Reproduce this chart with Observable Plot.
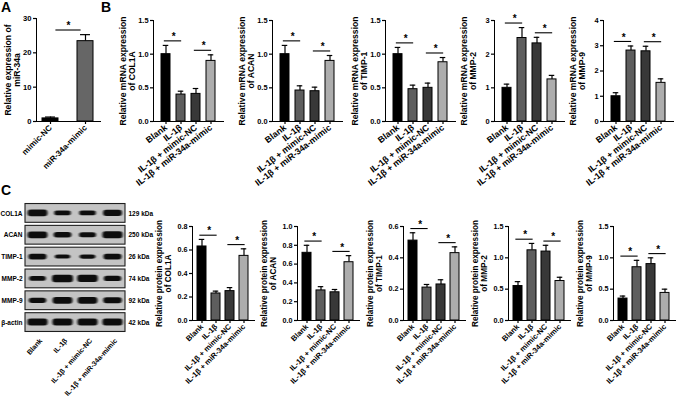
<!DOCTYPE html>
<html><head><meta charset="utf-8">
<script src="https://cdn.jsdelivr.net/npm/d3@7"></script>
<script src="https://cdn.jsdelivr.net/npm/@observablehq/plot@0.6"></script>
<style>
html,body{margin:0;padding:0;background:#fff;}
#fig{position:relative;width:676px;height:410px;overflow:hidden;background:#fff;font-family:'Liberation Sans',Arial,sans-serif;font-weight:bold;color:#000;}
.panel{position:absolute;}
.panel svg{max-width:none !important;display:block;}
.letter{position:absolute;font-size:14px;font-weight:bold;line-height:1;}
.panel svg [aria-label^="x-axis"] path,.panel svg [aria-label^="y-axis"] path,
.panel svg [aria-label^="x-axis"] line,.panel svg [aria-label^="y-axis"] line{stroke-width:1.2px;}
.lblA svg [aria-label^="x-axis"] text{font-size:8.2px;}
.lblB svg [aria-label^="x-axis"] text{font-size:8.8px;}
.lblC svg [aria-label^="x-axis"] text{font-size:7.6px;}
</style></head><body><div id="fig"></div>
<script>
// ---------------- data ----------------
const groups = ["Blank", "IL-1β", "IL-1β + mimic-NC", "IL-1β + miR-34a-mimic"];
const groupColors = ["#000000", "#5e5e5e", "#383838", "#adadad"];
const sigPairs = [["Blank", "IL-1β"], ["IL-1β + mimic-NC", "IL-1β + miR-34a-mimic"]];

// Panel A
const aCategories = ["mimic-NC", "miR-34a-mimic"];
const aColors = ["#000000", "#666666"];
const aValues = [0.9, 23.4];
const aErrors = [1.3, 25.3];
const aTicks = [0, 10, 20, 30];
const aSigPairs = [["mimic-NC", "miR-34a-mimic"]];

// Panel B (mRNA)
const mrnaCOL1A = [1.00, 0.40, 0.41, 0.90];
const mrnaCOL1AErr = [1.13, 0.45, 0.49, 0.99];
const mrnaACAN = [1.00, 0.46, 0.45, 0.90];
const mrnaACANErr = [1.13, 0.53, 0.51, 0.98];
const mrnaTIMP1 = [1.00, 0.48, 0.50, 0.88];
const mrnaTIMP1Err = [1.10, 0.54, 0.57, 0.95];
const mrnaMMP2 = [1.00, 2.48, 2.32, 1.25];
const mrnaMMP2Err = [1.11, 2.79, 2.50, 1.37];
const mrnaMMP9 = [1.00, 2.81, 2.78, 1.53];
const mrnaMMP9Err = [1.14, 2.99, 2.98, 1.69];
const mrnaTicks15 = [0, 0.5, 1.0, 1.5];
const mrnaTicks3 = [0, 1, 2, 3];
const mrnaTicks4 = [0, 1, 2, 3, 4];

// Panel C (protein)
const protCOL1A = [0.63, 0.23, 0.25, 0.55];
const protCOL1AErr = [0.69, 0.25, 0.28, 0.61];
const protACAN = [0.72, 0.32, 0.30, 0.62];
const protACANErr = [0.80, 0.36, 0.33, 0.69];
const protTIMP1 = [0.51, 0.21, 0.23, 0.43];
const protTIMP1Err = [0.56, 0.23, 0.26, 0.47];
const protMMP2 = [0.55, 1.12, 1.10, 0.63];
const protMMP2Err = [0.62, 1.23, 1.20, 0.69];
const protMMP9 = [0.35, 0.85, 0.90, 0.44];
const protMMP9Err = [0.39, 0.96, 1.00, 0.50];
const protTicks08 = [0, 0.2, 0.4, 0.6, 0.8];
const protTicks10 = [0, 0.2, 0.4, 0.6, 0.8, 1.0];
const protTicks06 = [0, 0.2, 0.4, 0.6];
const protTicks15 = [0, 0.5, 1.0, 1.5];

// Western blot
const blotRows = ["COL1A", "ACAN", "TIMP-1", "MMP-2", "MMP-9", "β-actin"];
const blotSizes = ["129 kDa", "250 kDa", "26 kDa", "74 kDa", "92 kDa", "42 kDa"];
const blotIntensity = [
  [0.85, 0.45, 0.45, 0.75],
  [0.85, 0.6, 0.5, 0.9],
  [0.65, 0.3, 0.35, 0.65],
  [0.45, 1.0, 0.95, 0.55],
  [0.55, 0.85, 0.85, 0.7],
  [0.9, 0.9, 0.9, 0.9]
];

// ---------------- drawing ----------------
const fig = document.getElementById("fig");
const f1 = d3.format(".1f"), f0 = d3.format("d");
const FONT = "'Liberation Sans', Arial, sans-serif";

function place(node, left, top, w, h, cls) {
  const div = document.createElement("div");
  div.className = "panel" + (cls ? " " + cls : "");
  div.style.left = left + "px";
  div.style.top = top + "px";
  div.style.width = w + "px";
  div.style.height = h + "px";
  div.appendChild(node);
  fig.appendChild(div);
}

function barChart(o) {
  const n = o.cats.length;
  const step = o.axisLen / (n - o.pi + 2 * o.po);
  const bw = step * (1 - o.pi);
  const data = o.cats.map((c, i) => ({cat: c, value: o.values[i], err: o.errs[i]}));
  const errOf = c => data.find(d => d.cat === c).err;
  const ymax = o.ticks[o.ticks.length - 1];
  const sig = o.pairs.map(([a, b]) => ({a, b, y: Math.max(errOf(a), errOf(b)) + 0.045 * ymax}));
  const W = o.ml + o.axisLen + 8;
  const svg = Plot.plot({
    width: W, height: o.H,
    marginTop: o.mt, marginBottom: o.H - (o.y0 - o.top),
    marginLeft: o.ml, marginRight: W - o.ml - o.axisLen,
    style: {background: "none", overflow: "visible", fontFamily: FONT, fontWeight: "bold", fontSize: o.tickFont + "px", color: "#000"},
    x: {type: "band", domain: o.cats, paddingInner: o.pi, paddingOuter: o.po, label: null,
        tickRotate: o.rot, tickSize: 3, tickPadding: 2, line: true},
    y: {domain: [0, ymax], ticks: o.ticks, tickFormat: o.fmt, label: null, tickSize: 3, tickPadding: 2, line: true},
    color: {domain: o.cats, range: o.colors},
    marks: [
      Plot.ruleX(data, {x: "cat", y1: "value", y2: "err", stroke: "#000", strokeWidth: 1.2}),
      Plot.tickY(data, {x: "cat", y: "err", stroke: "#000", strokeWidth: 1.2, insetLeft: bw * 0.18, insetRight: bw * 0.18}),
      Plot.barY(data, {x: "cat", y: "value", fill: "cat", stroke: "#000", strokeWidth: 1}),
      Plot.ruleY(sig, {x1: "a", x2: "b", y: "y", stroke: "#000", strokeWidth: 1.1,
        insetLeft: bw / 2 + o.la, insetRight: bw / 2 - o.rb}),
      Plot.text(sig, {x: "a", y: "y", text: () => "*", dx: step / 2, dy: -4, fontSize: 10, fontWeight: "bold"}),
      Plot.text([o.title], {text: d => d, frameAnchor: "left", textAnchor: "middle", rotate: -90, dx: o.titleDx,
        fontSize: o.titleFont, fontWeight: "bold", lineHeight: 1.12})
    ]
  });
  place(svg, o.axisX - o.ml, o.top, W, o.H, o.cls);
}

// Panel A
barChart({cats: aCategories, colors: aColors, values: aValues, errs: aErrors, ticks: aTicks, fmt: f0,
  pairs: aSigPairs, title: "Relative expression of\nmiR-34a", axisX: 36, axisLen: 64, ml: 36, top: 0, mt: 18, y0: 121, H: 195,
  pi: 0.53, po: 0.16, tickFont: 7.6, titleFont: 8.6, titleDx: -24, la: 5, rb: -4, rot: -45, cls: "lblA"});

// Panel B
const mrnaCharts = [
  {t: "COL1A", v: mrnaCOL1A, e: mrnaCOL1AErr, ticks: mrnaTicks15, fmt: f1},
  {t: "ACAN", v: mrnaACAN, e: mrnaACANErr, ticks: mrnaTicks15, fmt: f1},
  {t: "TIMP-1", v: mrnaTIMP1, e: mrnaTIMP1Err, ticks: mrnaTicks15, fmt: f1},
  {t: "MMP-2", v: mrnaMMP2, e: mrnaMMP2Err, ticks: mrnaTicks3, fmt: f0},
  {t: "MMP-9", v: mrnaMMP9, e: mrnaMMP9Err, ticks: mrnaTicks4, fmt: f0}
];
const bAxes = [153, 272, 385, 494, 603];
mrnaCharts.forEach((c, i) => barChart({cats: groups, colors: groupColors, values: c.v, errs: c.e, ticks: c.ticks, fmt: c.fmt,
  pairs: sigPairs, title: "Relative mRNA expression\nof " + c.t, axisX: bAxes[i], axisLen: 70, ml: 46, top: 0, mt: 20, y0: 121, H: 195,
  pi: 0.375, po: 0.45, tickFont: 7.4, titleFont: 8.6, titleDx: -26, la: -2, rb: 1, rot: -38, cls: "lblB"}));

// Panel C charts
const protCharts = [
  {t: "COL1A", v: protCOL1A, e: protCOL1AErr, ticks: protTicks08},
  {t: "ACAN", v: protACAN, e: protACANErr, ticks: protTicks10},
  {t: "TIMP-1", v: protTIMP1, e: protTIMP1Err, ticks: protTicks06},
  {t: "MMP-2", v: protMMP2, e: protMMP2Err, ticks: protTicks15},
  {t: "MMP-9", v: protMMP9, e: protMMP9Err, ticks: protTicks15}
];
const cAxes = [192, 297, 402.5, 508, 613];
protCharts.forEach((c, i) => barChart({cats: groups, colors: groupColors, values: c.v, errs: c.e, ticks: c.ticks, fmt: f1,
  pairs: sigPairs, title: "Relative protein expression\nof " + c.t, axisX: cAxes[i], axisLen: 62, ml: 46, top: 215, mt: 11, y0: 320, H: 195,
  pi: 0.33, po: 0.3, tickFont: 7.2, titleFont: 8.2, titleDx: -29, la: -2.5, rb: 1.5, rot: -45, cls: "lblC"}));

// Western blot
const rowsData = blotRows.map((name, i) => ({i, name, size: blotSizes[i]}));
const bandsData = [];
blotIntensity.forEach((row, r) => row.forEach((s, l) => bandsData.push({row: r, lane: l, s})));
const lanesData = groups.map((name, i) => ({i, name}));
const rowPx = 131 / 6, lanePx = 100 / 4;
const blot = Plot.plot({
  width: 170, height: 215, marginLeft: 25, marginRight: 45, marginTop: 7, marginBottom: 77,
  style: {background: "none", overflow: "visible", fontFamily: FONT, fontWeight: "bold", fontSize: "6.5px", color: "#000"},
  x: {domain: [0, 4], axis: null},
  y: {domain: [0, 6], reverse: true, axis: null},
  marks: [
    Plot.rect(rowsData, {x1: () => 0, x2: () => 4, y1: d => d.i + 0.07, y2: d => d.i + 0.93, fill: "#c4c4c4", stroke: "#1e1e1e", strokeWidth: 1.1}),
    Plot.rect(bandsData, {
      x1: d => d.lane + 0.5 - (13 + 8 * d.s) / lanePx / 2,
      x2: d => d.lane + 0.5 + (13 + 8 * d.s) / lanePx / 2,
      y1: d => d.row + 0.5 - (2.5 + 5 * d.s) / rowPx / 2,
      y2: d => d.row + 0.5 + (2.5 + 5 * d.s) / rowPx / 2,
      fill: "#101010", rx: 3}),
    Plot.text(rowsData, {x: () => 0, y: d => d.i + 0.5, text: "name", textAnchor: "end", dx: -3}),
    Plot.text(rowsData, {x: () => 4, y: d => d.i + 0.5, text: "size", textAnchor: "start", dx: 3}),
    Plot.text(lanesData, {x: d => d.i + 0.5, y: () => 6, text: "name", rotate: -48, textAnchor: "end", dx: 3, dy: 6, fontSize: 7})
  ]
});
// soft band edges
const ns = "http://www.w3.org/2000/svg";
const defs = document.createElementNS(ns, "defs");
const filt = document.createElementNS(ns, "filter");
filt.setAttribute("id", "bandblur");
filt.setAttribute("x", "-50%"); filt.setAttribute("y", "-100%");
filt.setAttribute("width", "200%"); filt.setAttribute("height", "300%");
const blur = document.createElementNS(ns, "feGaussianBlur");
blur.setAttribute("stdDeviation", "1.2 0.75");
filt.appendChild(blur); defs.appendChild(filt);
blot.insertBefore(defs, blot.firstChild);
const rectGroups = blot.querySelectorAll('g[aria-label="rect"]');
if (rectGroups[1]) rectGroups[1].setAttribute("filter", "url(#bandblur)");
place(blot, 0, 195, 170, 215);

// panel letters
[["A", 1, 0], ["B", 101, 0], ["C", 1, 183]].forEach(([t, x, y]) => {
  const d = document.createElement("div");
  d.className = "letter"; d.textContent = t;
  d.style.left = x + "px"; d.style.top = y + "px";
  fig.appendChild(d);
});
</script></body></html>
